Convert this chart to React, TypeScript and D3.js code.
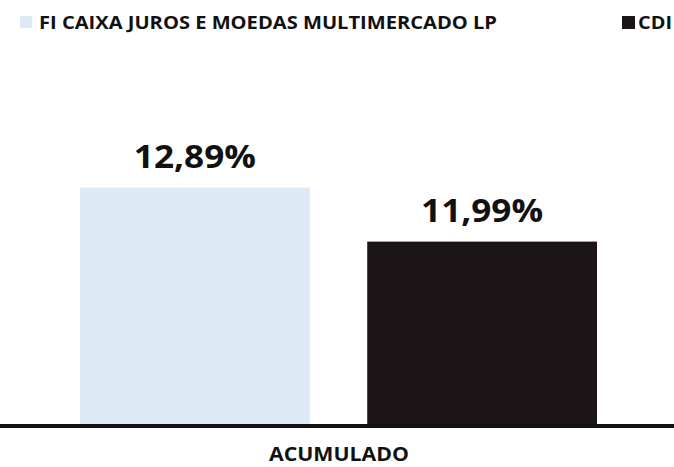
import React from "react";
import * as d3 from "d3";

const series = ["FI CAIXA JUROS E MOEDAS MULTIMERCADO LP", "CDI"];
const values = [12.89, 11.99];
const valueLabels = ["12,89%", "11,99%"];
const category = "ACUMULADO";
const colors = ["#dde9f4", "#1c1518"];

const W = 674;
const H = 467;
const FONT = "'Open Sans', Lato, sans-serif";

export default function App() {
  const x = d3.scaleBand<string>().domain(series).range([80, 597]).paddingInner(0.2).paddingOuter(0);
  const y = d3.scaleLinear().domain([8.95, 13.95]).range([424, 124]);
  const base = y(8.95);

  return (
    <svg width={W} height={H} style={{ position: "absolute", left: 0, top: 0, background: "#fff" }}>
      {/* legend */}
      <rect x={20} y={16} width={12} height={12} fill={colors[0]} />
      <text x={39} y={29} fontFamily={FONT} fontWeight={700} fontSize={18.5} fill="#111"
        textLength={458} lengthAdjust="spacingAndGlyphs">{series[0]}</text>
      <rect x={622} y={16} width={13} height={13} fill={colors[1]} />
      <text x={638} y={29} fontFamily={FONT} fontWeight={700} fontSize={18.5} fill="#111"
        textLength={34} lengthAdjust="spacingAndGlyphs">{series[1]}</text>

      {series.map((s, i) => (
        <g key={s}>
          <rect x={x(s)} y={y(values[i])} width={x.bandwidth()} height={base - y(values[i])} fill={colors[i]} />
          <text x={(x(s) as number) + x.bandwidth() / 2} y={y(values[i]) - 20} textAnchor="middle"
            fontFamily={FONT} fontWeight={700} fontSize={33} fill="#111"
            textLength={122} lengthAdjust="spacingAndGlyphs">{valueLabels[i]}</text>
        </g>
      ))}

      <line x1={0} x2={W} y1={base + 2} y2={base + 2} stroke="#111" strokeWidth={4} />
      <text x={339} y={461} textAnchor="middle" fontFamily={FONT} fontWeight={700} fontSize={19} fill="#111"
        textLength={140} lengthAdjust="spacingAndGlyphs">{category}</text>
    </svg>
  );
}
